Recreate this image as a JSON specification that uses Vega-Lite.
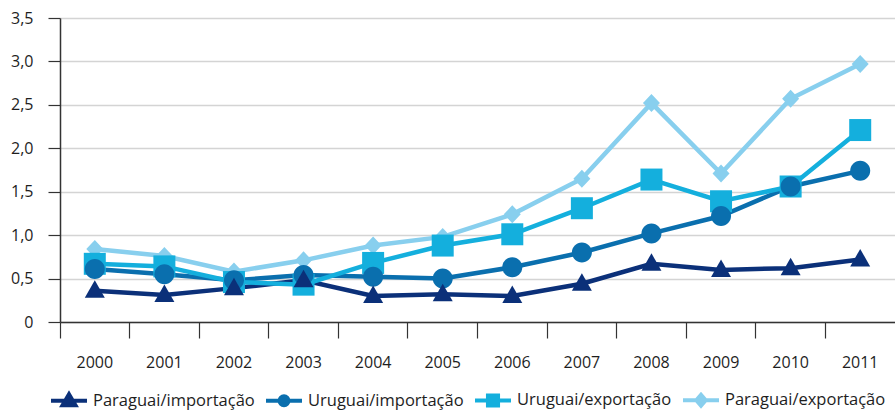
{
  "$schema": "https://vega.github.io/schema/vega-lite/v6.json",
  "autosize": "none",
  "width": 835,
  "height": 304,
  "padding": {"left": 60, "top": 18, "right": 0, "bottom": 88},
  "background": "white",
  "config": {
    "view": {"stroke": null},
    "font": "Open Sans",
    "axis": {"labelFont": "Open Sans", "labelColor": "#1e1e1e", "domainColor": "#333333", "tickColor": "#333333", "domainWidth": 1.5, "tickWidth": 1.2}
  },
  "data": {"values": [
    {"ano": "2000", "serie": "Paraguai/importação", "valor": 0.36},
    {"ano": "2001", "serie": "Paraguai/importação", "valor": 0.31},
    {"ano": "2002", "serie": "Paraguai/importação", "valor": 0.39},
    {"ano": "2003", "serie": "Paraguai/importação", "valor": 0.48},
    {"ano": "2004", "serie": "Paraguai/importação", "valor": 0.30},
    {"ano": "2005", "serie": "Paraguai/importação", "valor": 0.32},
    {"ano": "2006", "serie": "Paraguai/importação", "valor": 0.30},
    {"ano": "2007", "serie": "Paraguai/importação", "valor": 0.44},
    {"ano": "2008", "serie": "Paraguai/importação", "valor": 0.67},
    {"ano": "2009", "serie": "Paraguai/importação", "valor": 0.60},
    {"ano": "2010", "serie": "Paraguai/importação", "valor": 0.62},
    {"ano": "2011", "serie": "Paraguai/importação", "valor": 0.72},
    {"ano": "2000", "serie": "Uruguai/importação", "valor": 0.61},
    {"ano": "2001", "serie": "Uruguai/importação", "valor": 0.55},
    {"ano": "2002", "serie": "Uruguai/importação", "valor": 0.48},
    {"ano": "2003", "serie": "Uruguai/importação", "valor": 0.54},
    {"ano": "2004", "serie": "Uruguai/importação", "valor": 0.52},
    {"ano": "2005", "serie": "Uruguai/importação", "valor": 0.50},
    {"ano": "2006", "serie": "Uruguai/importação", "valor": 0.63},
    {"ano": "2007", "serie": "Uruguai/importação", "valor": 0.80},
    {"ano": "2008", "serie": "Uruguai/importação", "valor": 1.02},
    {"ano": "2009", "serie": "Uruguai/importação", "valor": 1.22},
    {"ano": "2010", "serie": "Uruguai/importação", "valor": 1.56},
    {"ano": "2011", "serie": "Uruguai/importação", "valor": 1.74},
    {"ano": "2000", "serie": "Uruguai/exportação", "valor": 0.67},
    {"ano": "2001", "serie": "Uruguai/exportação", "valor": 0.64},
    {"ano": "2002", "serie": "Uruguai/exportação", "valor": 0.46},
    {"ano": "2003", "serie": "Uruguai/exportação", "valor": 0.43},
    {"ano": "2004", "serie": "Uruguai/exportação", "valor": 0.68},
    {"ano": "2005", "serie": "Uruguai/exportação", "valor": 0.88},
    {"ano": "2006", "serie": "Uruguai/exportação", "valor": 1.01},
    {"ano": "2007", "serie": "Uruguai/exportação", "valor": 1.31},
    {"ano": "2008", "serie": "Uruguai/exportação", "valor": 1.64},
    {"ano": "2009", "serie": "Uruguai/exportação", "valor": 1.39},
    {"ano": "2010", "serie": "Uruguai/exportação", "valor": 1.56},
    {"ano": "2011", "serie": "Uruguai/exportação", "valor": 2.21},
    {"ano": "2000", "serie": "Paraguai/exportação", "valor": 0.84},
    {"ano": "2001", "serie": "Paraguai/exportação", "valor": 0.76},
    {"ano": "2002", "serie": "Paraguai/exportação", "valor": 0.58},
    {"ano": "2003", "serie": "Paraguai/exportação", "valor": 0.71},
    {"ano": "2004", "serie": "Paraguai/exportação", "valor": 0.88},
    {"ano": "2005", "serie": "Paraguai/exportação", "valor": 0.98},
    {"ano": "2006", "serie": "Paraguai/exportação", "valor": 1.24},
    {"ano": "2007", "serie": "Paraguai/exportação", "valor": 1.65},
    {"ano": "2008", "serie": "Paraguai/exportação", "valor": 2.52},
    {"ano": "2009", "serie": "Paraguai/exportação", "valor": 1.71},
    {"ano": "2010", "serie": "Paraguai/exportação", "valor": 2.57},
    {"ano": "2011", "serie": "Paraguai/exportação", "valor": 2.97}
  ]},
  "encoding": {
    "x": {
      "field": "ano", "type": "ordinal", "bandPosition": 0.5,
      "scale": {"type": "band", "paddingInner": 0, "paddingOuter": 0},
      "axis": {"title": null, "labelAngle": 0, "bandPosition": 0, "tickSize": 16, "labelPadding": 16, "labelFontSize": 16, "grid": false, "labelAlign": "center"}
    },
    "y": {
      "field": "valor", "type": "quantitative",
      "scale": {"domain": [0, 3.5], "nice": false},
      "axis": {"title": null, "values": [0, 0.5, 1, 1.5, 2, 2.5, 3, 3.5], "tickSize": 12, "labelPadding": 15, "labelFontSize": 16,
        "labelExpr": "datum.value == 0 ? '0' : replace(format(datum.value, '.1f'), '.', ',')",
        "grid": true, "gridColor": "#d4d4d4", "gridWidth": 1.5}
    },
    "color": {
      "field": "serie", "type": "nominal",
      "scale": {"domain": ["Paraguai/importação", "Uruguai/importação", "Uruguai/exportação", "Paraguai/exportação"],
        "range": ["#0b3079", "#0a6fae", "#14afdd", "#88cfee"]},
      "legend": {
        "title": null, "orient": "none", "legendX": -11, "legendY": 362, "direction": "horizontal", "columns": 4,
        "columnPadding": 3, "padding": 0, "symbolSize": 1296, "symbolStrokeWidth": 4, "labelOffset": 4,
        "labelFontSize": 16.5, "labelFont": "Open Sans", "labelColor": "#1e1e1e", "labelLimit": 300,
        "encode": {"symbols": {"update": {
          "shape": {"signal": "datum.value == 'Paraguai/importação' ? 'M-1,0H1M0,-0.36L0.36,0.26L-0.36,0.26Z' : datum.value == 'Uruguai/importação' ? 'M-1,0H1M0.25,0A0.25,0.25,0,1,1,-0.25,0A0.25,0.25,0,1,1,0.25,0Z' : datum.value == 'Uruguai/exportação' ? 'M-1,0H1M-0.28,-0.28H0.28V0.28H-0.28Z' : 'M-1,0H1M0,-0.3L0.26,0L0,0.3L-0.26,0Z'"},
          "fill": {"scale": "color", "field": "value"},
          "stroke": {"scale": "color", "field": "value"},
          "strokeWidth": {"value": 4},
          "opacity": {"value": 1}
        }}}
      }
    }
  },
  "layer": [
    {
      "mark": {"type": "line", "strokeWidth": 4.5}
    },
    {
      "transform": [{"filter": "datum.serie == 'Paraguai/exportação'"}],
      "mark": {"type": "point", "filled": true, "opacity": 1, "size": 400, "shape": "M0,-0.9L0.85,0L0,0.9L-0.85,0Z"}
    },
    {
      "transform": [{"filter": "datum.serie == 'Uruguai/exportação'"}],
      "mark": {"type": "point", "filled": true, "opacity": 1, "size": 400, "shape": "M-1.1,-1.1H1.1V1.1H-1.1Z"}
    },
    {
      "transform": [{"filter": "datum.serie == 'Uruguai/importação'"}],
      "mark": {"type": "point", "filled": true, "opacity": 1, "size": 400, "shape": "M1,0A1,1,0,1,1,-1,0A1,1,0,1,1,1,0Z"}
    },
    {
      "transform": [{"filter": "datum.serie == 'Paraguai/importação'"}],
      "mark": {"type": "point", "filled": true, "opacity": 1, "size": 400, "shape": "M0,-1.05L1,0.7L-1,0.7Z"}
    }
  ]
}
